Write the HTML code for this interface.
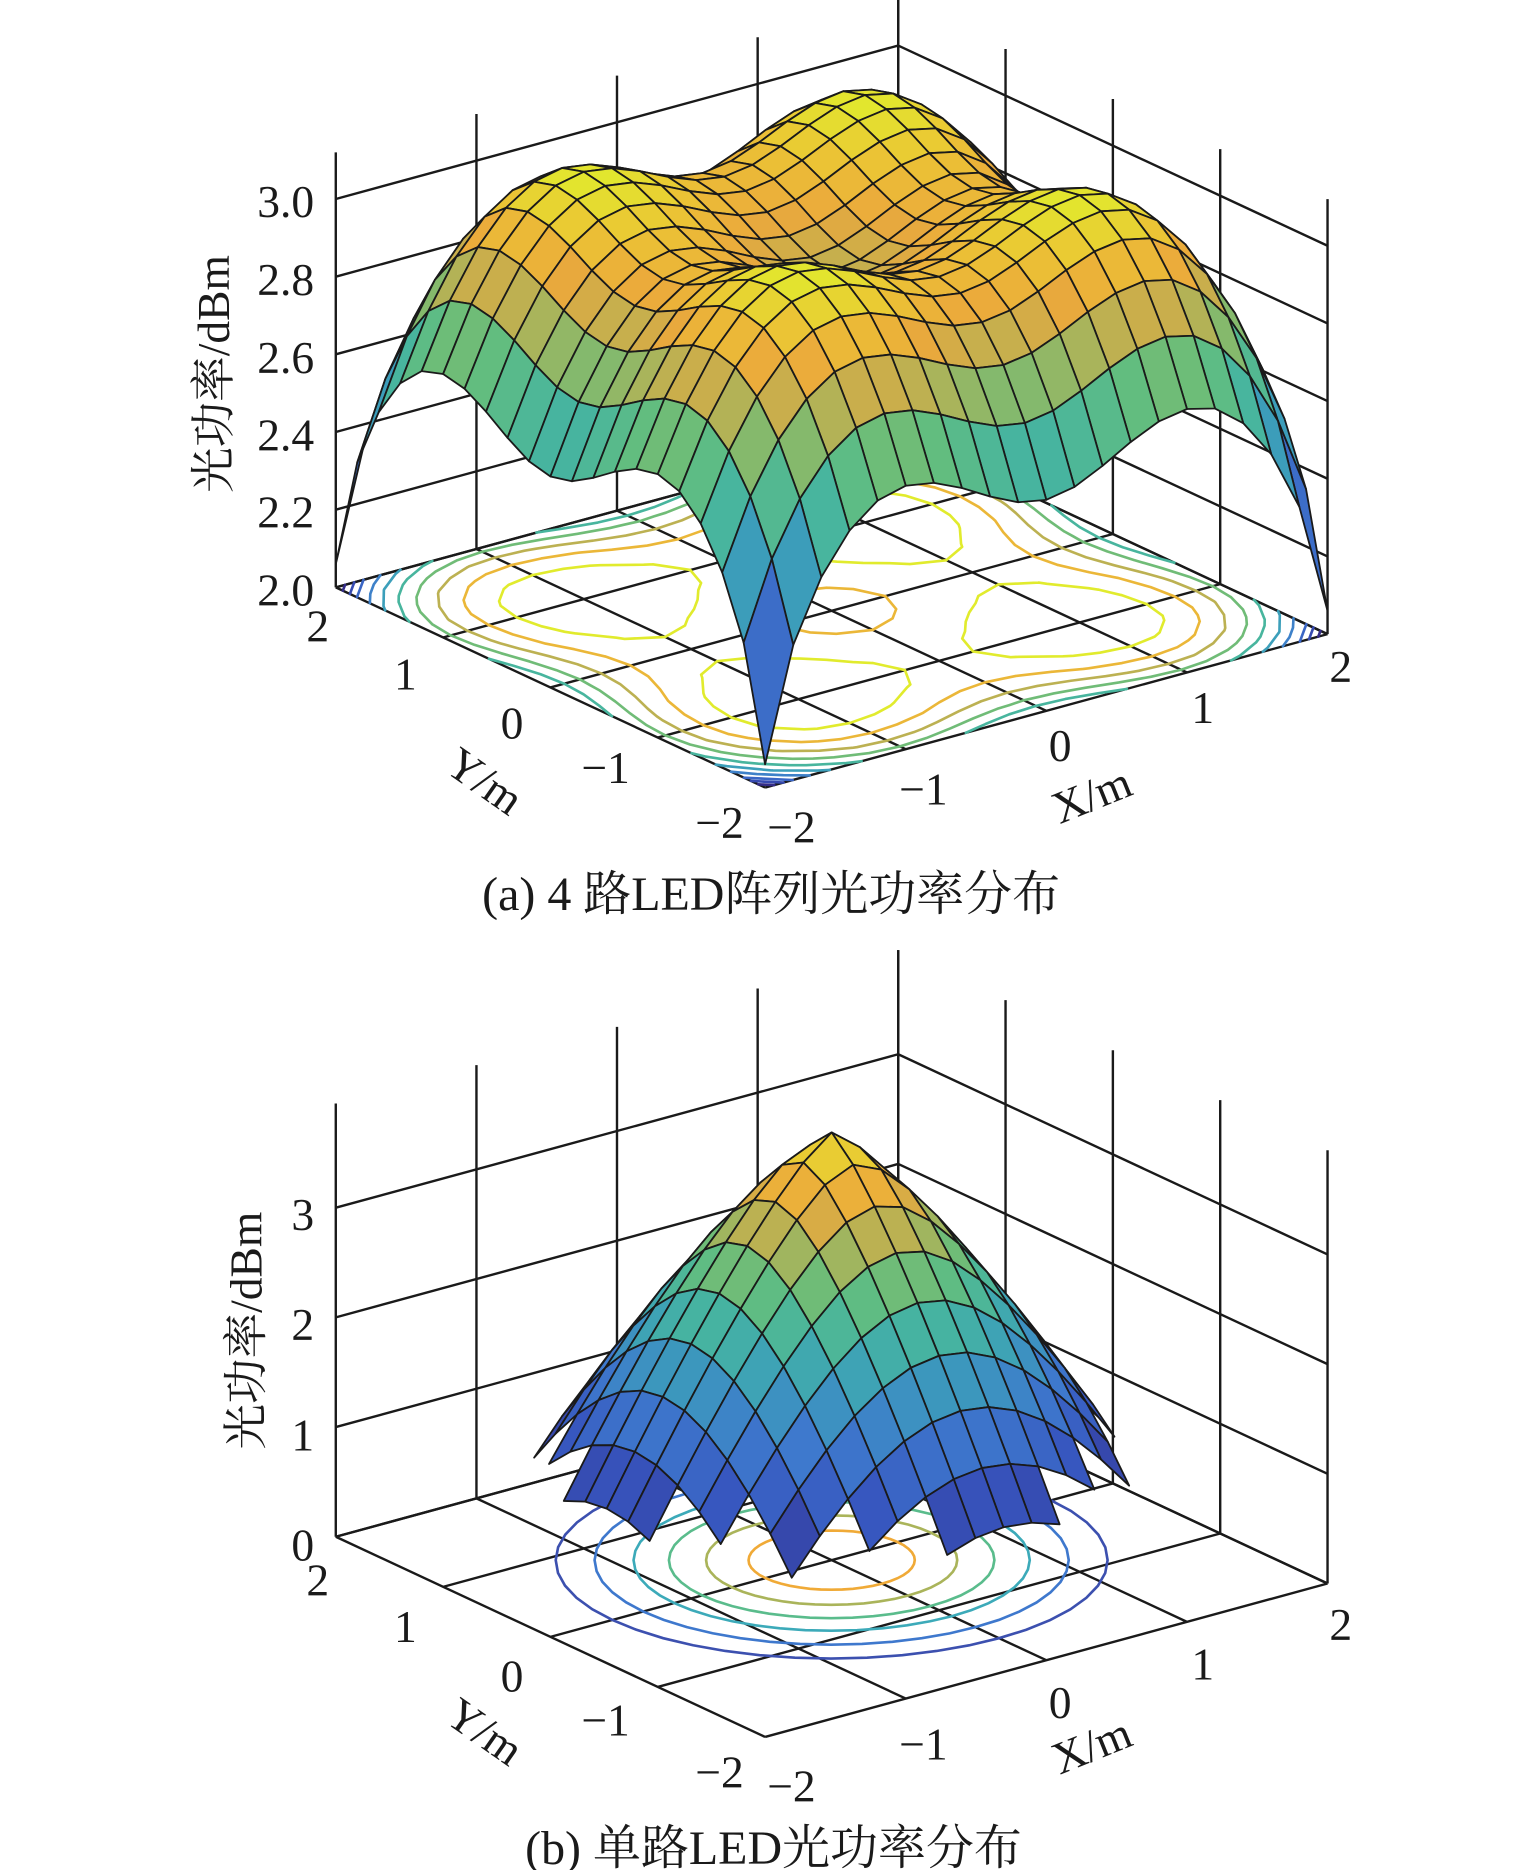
<!DOCTYPE html>
<html><head><meta charset="utf-8"><style>
html,body{margin:0;padding:0;background:#fff;}
svg{display:block;}
text{font-family:"Liberation Serif","Noto Serif CJK SC","Noto Sans CJK SC",serif;fill:#1a1a1a;}
</style></head><body>
<svg id="s" xmlns="http://www.w3.org/2000/svg" width="1535" height="1870" viewBox="0 0 1280 1560" preserveAspectRatio="none">
<rect width="1280" height="1560" fill="#fff"/>
<g id="g"></g>
<g font-size="38">
<text x="262" y="181" text-anchor="end">3.0</text>
<text x="262" y="246" text-anchor="end">2.8</text>
<text x="262" y="311" text-anchor="end">2.6</text>
<text x="262" y="376" text-anchor="end">2.4</text>
<text x="262" y="440" text-anchor="end">2.2</text>
<text x="262" y="505" text-anchor="end">2.0</text>
<text x="265" y="535" text-anchor="middle">2</text>
<text x="338" y="575" text-anchor="middle">1</text>
<text x="427" y="616" text-anchor="middle">0</text>
<text x="505" y="653" text-anchor="middle">−1</text>
<text x="600" y="699" text-anchor="middle">−2</text>
<text x="660" y="703" text-anchor="middle">−2</text>
<text x="770" y="671" text-anchor="middle">−1</text>
<text x="884" y="635" text-anchor="middle">0</text>
<text x="1003" y="603" text-anchor="middle">1</text>
<text x="1118" y="569" text-anchor="middle">2</text>
<text transform="translate(397,662) rotate(35)" text-anchor="middle">Y/m</text>
<text transform="translate(915,675) rotate(-22)" text-anchor="middle">X/m</text>
<text transform="translate(191,312) rotate(-90)" text-anchor="middle">光功率/dBm</text>
<text x="643" y="759" text-anchor="middle" font-size="40">(a) 4 路LED阵列光功率分布</text>
<text x="262" y="1026" text-anchor="end">3</text>
<text x="262" y="1118" text-anchor="end">2</text>
<text x="262" y="1210" text-anchor="end">1</text>
<text x="262" y="1302" text-anchor="end">0</text>
<text x="265" y="1331" text-anchor="middle">2</text>
<text x="338" y="1370" text-anchor="middle">1</text>
<text x="427" y="1411" text-anchor="middle">0</text>
<text x="505" y="1448" text-anchor="middle">−1</text>
<text x="600" y="1491" text-anchor="middle">−2</text>
<text x="660" y="1503" text-anchor="middle">−2</text>
<text x="770" y="1468" text-anchor="middle">−1</text>
<text x="884" y="1433" text-anchor="middle">0</text>
<text x="1003" y="1401" text-anchor="middle">1</text>
<text x="1118" y="1368" text-anchor="middle">2</text>
<text transform="translate(397,1455) rotate(35)" text-anchor="middle">Y/m</text>
<text transform="translate(915,1468) rotate(-22)" text-anchor="middle">X/m</text>
<text transform="translate(218,1110) rotate(-90)" text-anchor="middle">光功率/dBm</text>
<text x="645" y="1555" text-anchor="middle" font-size="40">(b) 单路LED光功率分布</text>
</g>
</svg>
<script>
(function(){
const NS='http://www.w3.org/2000/svg';
const G=document.getElementById('g');
function el(tag,a,p){const e=document.createElementNS(NS,tag);for(const k in a)e.setAttribute(k,a[k]);(p||G).appendChild(e);return e;}
const stops=[[0,52,44,135],[0.15,55,85,190],[0.3,62,120,205],[0.45,60,160,185],[0.55,70,180,160],[0.65,100,190,125],[0.75,170,180,90],[0.85,235,168,60],[0.93,235,198,52],[1,225,235,45]];
function cmap(t){t=Math.max(0,Math.min(1,t));for(let i=1;i<stops.length;i++){if(t<=stops[i][0]){const a=stops[i-1],b=stops[i];const f=(t-a[0])/(b[0]-a[0]);return 'rgb('+[1,2,3].map(k=>Math.round(a[k]+(b[k]-a[k])*f)).join(',')+')';}}return 'rgb(225,235,45)';}
function mkP(fx,fy,z0,zs){return (x,y,z)=>[fx+(x+2)*117.25-(y+2)*89.5, fy-(x+2)*32-(y+2)*41.75-(z-z0)*zs];}
function ln(p,q,w){el('line',{x1:p[0].toFixed(1),y1:p[1].toFixed(1),x2:q[0].toFixed(1),y2:q[1].toFixed(1),stroke:'#1a1a1a','stroke-width':w||2});}
function axes(P,z0,zmax,zt){
  for(let v=-2;v<=2;v++){ln(P(v,-2,z0),P(v,2,z0));ln(P(-2,v,z0),P(2,v,z0));}
  for(let v=-2;v<=2;v++){ln(P(v,2,z0),P(v,2,zmax));ln(P(2,v,z0),P(2,v,zmax));}
  zt.forEach(z=>{ln(P(-2,2,z),P(2,2,z));ln(P(2,2,z),P(2,-2,z));});
}
const N=21,xs=[];for(let i=0;i<N;i++)xs.push(-2+0.2*i);
function surface(P,Z,cmin,cmax){
  const faces=[];
  for(let i=0;i<N-1;i++)for(let j=0;j<N-1;j++){
    const v=[Z[i][j],Z[i+1][j],Z[i+1][j+1],Z[i][j+1]];
    if(v.some(a=>a===null))continue;
    const xc=(xs[i]+xs[i+1])/2,yc=(xs[j]+xs[j+1])/2;
    faces.push({i,j,v,d:89.5*xc+117.25*yc});
  }
  faces.sort((a,b)=>b.d-a.d);
  faces.forEach(f=>{
    const {i,j,v}=f;
    const pts=[P(xs[i],xs[j],v[0]),P(xs[i+1],xs[j],v[1]),P(xs[i+1],xs[j+1],v[2]),P(xs[i],xs[j+1],v[3])];
    const m=(v[0]+v[1]+v[2]+v[3])/4;
    el('polygon',{points:pts.map(p=>p[0].toFixed(1)+','+p[1].toFixed(1)).join(' '),fill:cmap((m-cmin)/(cmax-cmin)),stroke:'#1a1a1a','stroke-width':1.5,'stroke-linejoin':'round'});
  });
}
function contours(P,Z,z0,levels,colors){
  levels.forEach((L,li)=>{
    let d='';
    for(let i=0;i<N-1;i++)for(let j=0;j<N-1;j++){
      const c=[[i,j],[i+1,j],[i+1,j+1],[i,j+1]];
      const pts=[];
      for(let k=0;k<4;k++){
        const a=c[k],b=c[(k+1)%4];
        const va=Z[a[0]][a[1]],vb=Z[b[0]][b[1]];
        if((va-L)*(vb-L)<0){
          const t=(L-va)/(vb-va);
          const x=xs[a[0]]+(xs[b[0]]-xs[a[0]])*t,y=xs[a[1]]+(xs[b[1]]-xs[a[1]])*t;
          pts.push(P(x,y,z0));
        }
      }
      for(let k=0;k+1<pts.length;k+=2){d+='M'+pts[k][0].toFixed(1)+' '+pts[k][1].toFixed(1)+'L'+pts[k+1][0].toFixed(1)+' '+pts[k+1][1].toFixed(1);}
    }
    el('path',{d:d,fill:'none',stroke:colors[li],'stroke-width':2.2,'stroke-linecap':'round'});
  });
}
// ---- (a)
const Pa=mkP(638,657,2.0,324);
axes(Pa,2.0,3.12,[2.0,2.2,2.4,2.6,2.8,3.0]);
const c0=0.72;
function g(t){return t<0.5? c0+(1-c0)*Math.pow(Math.sin(Math.PI*t),2) : 1-Math.pow((t-0.5)/0.5,2);}
const Za=[];let amin=1e9,amax=-1e9;
for(let i=0;i<N;i++){Za.push([]);for(let j=0;j<N;j++){
  const F=Math.max(0,(g(Math.abs(xs[i])/2)+g(Math.abs(xs[j])/2))/2);
  const z=2.06+1.04*Math.pow(F,0.75);Za[i].push(z);amin=Math.min(amin,z);amax=Math.max(amax,z);}}
const lv=[],lc=[];for(let k=1;k<=10;k++){lv.push(amin+(amax-amin)*k/11);lc.push(cmap((k-1)/9));}
contours(Pa,Za,2.0,lv,lc);
surface(Pa,Za,amin,amax);
// ---- (b)
const Pb=mkP(638,1449,0,91.5);
axes(Pb,0,3.95,[0,1,2,3]);
const Zb=[];let bmin=1e9,bmax=-1e9;
for(let i=0;i<N;i++){Zb.push([]);for(let j=0;j<N;j++){
  const r=Math.hypot(xs[i],xs[j]);
  if(r>1.70){Zb[i].push(null);continue;}
  const z=3.9-1.58*Math.pow(r,1.27);Zb[i].push(z);bmin=Math.min(bmin,z);bmax=Math.max(bmax,z);}}
[[1.56,'rgb(60,80,175)'],[1.34,'rgb(62,120,205)'],[1.12,'rgb(60,170,185)'],[0.92,'rgb(90,188,140)'],[0.71,'rgb(170,180,90)'],[0.47,'rgb(240,170,55)']].forEach(([r,col])=>{
  let d='';for(let k=0;k<=48;k++){const a=k/48*2*Math.PI;const p=Pb(r*Math.cos(a),r*Math.sin(a),0);d+=(k?'L':'M')+p[0].toFixed(1)+' '+p[1].toFixed(1);}
  el('path',{d:d+'Z',fill:'none',stroke:col,'stroke-width':2.2});
});
surface(Pb,Zb,bmin,bmax);
})();
</script>
</body></html>
